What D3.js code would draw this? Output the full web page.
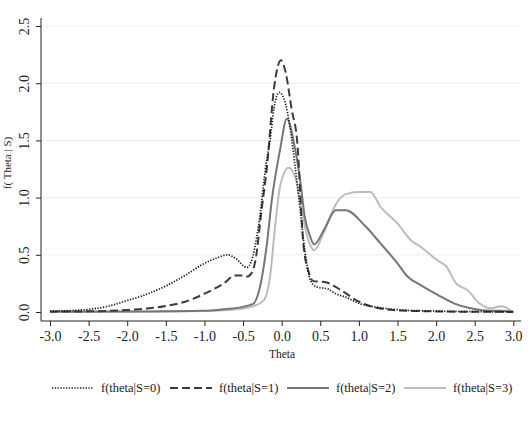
<!DOCTYPE html>
<html>
<head>
<meta charset="utf-8">
<script src="https://cdn.jsdelivr.net/npm/d3@7.9.0/dist/d3.min.js"></script>
<style>
  body { margin: 0; background: #fff; }
  svg text { font-family: "Liberation Serif", "DejaVu Serif", serif; fill: #222; }
</style>
</head>
<body>
<svg id="chart" width="528" height="422"></svg>
<script>
const xTicks = [-3.0, -2.5, -2.0, -1.5, -1.0, -0.5, 0.0, 0.5, 1.0, 1.5, 2.0, 2.5, 3.0];
const yTicks = [0.0, 0.5, 1.0, 1.5, 2.0, 2.5];
const seriesNames = ["f(theta|S=0)", "f(theta|S=1)", "f(theta|S=2)", "f(theta|S=3)"];

const s0 = [[-3.0,0.008],[-2.75,0.012],[-2.5,0.023],[-2.25,0.05],[-2.0,0.1],[-1.75,0.155],[-1.5,0.227],
  [-1.25,0.32],[-1.0,0.425],[-0.85,0.47],[-0.7,0.5],[-0.6,0.47],[-0.45,0.39],[-0.4,0.43],[-0.3,0.75],
  [-0.2,1.3],[-0.15,1.5],[-0.1,1.78],[-0.03,1.92],[0.05,1.82],[0.1,1.65],[0.175,1.27],[0.24,0.89],
  [0.3,0.54],[0.37,0.28],[0.45,0.22],[0.6,0.2],[0.7,0.16],[0.83,0.13],[1.0,0.076],[1.25,0.04],
  [1.5,0.02],[2.0,0.008],[2.5,0.003],[3.0,0.001]];
const s1 = [[-3.0,0.003],[-2.5,0.006],[-2.0,0.017],[-1.75,0.03],[-1.5,0.052],[-1.25,0.09],[-1.0,0.16],
  [-0.75,0.25],[-0.6,0.32],[-0.5,0.32],[-0.45,0.31],[-0.39,0.34],[-0.34,0.45],[-0.26,0.89],[-0.19,1.27],
  [-0.1,1.95],[-0.01,2.2],[0.05,2.1],[0.13,1.77],[0.2,1.5],[0.28,0.6],[0.35,0.35],[0.41,0.27],
  [0.57,0.26],[0.77,0.19],[1.0,0.09],[1.28,0.03],[1.5,0.015],[2.0,0.005],[2.5,0.002],[3.0,0.001]];
const s2 = [[-3.0,0.003],[-2.0,0.004],[-1.5,0.006],[-1.0,0.01],[-0.75,0.025],[-0.5,0.045],[-0.37,0.07],
  [-0.28,0.22],[-0.19,0.6],[-0.127,0.98],[-0.02,1.42],[0.067,1.69],[0.175,1.42],[0.24,1.15],[0.3,0.83],
  [0.37,0.66],[0.42,0.59],[0.55,0.72],[0.7,0.89],[0.83,0.89],[1.07,0.76],[1.28,0.6],[1.5,0.425],
  [1.63,0.31],[1.8,0.235],[2.02,0.15],[2.23,0.076],[2.45,0.032],[2.6,0.015],[2.8,0.01],[3.0,0.005]];
const s3 = [[-3.0,0.002],[-2.0,0.003],[-1.5,0.005],[-1.0,0.008],[-0.75,0.015],[-0.5,0.03],[-0.37,0.05],
  [-0.235,0.1],[-0.15,0.31],[-0.084,0.75],[-0.02,1.1],[0.09,1.26],[0.175,1.18],[0.24,0.98],[0.3,0.75],
  [0.38,0.57],[0.42,0.54],[0.55,0.7],[0.7,0.94],[0.83,1.03],[1.0,1.05],[1.15,1.05],[1.28,0.92],
  [1.5,0.775],[1.67,0.63],[1.8,0.57],[2.02,0.45],[2.13,0.4],[2.26,0.25],[2.41,0.19],[2.56,0.076],
  [2.71,0.032],[2.84,0.05],[2.93,0.03],[2.98,0.005]];
const seriesData = [s0, s1, s2, s3];

const styles = [
  { stroke: "#1a1a1a", width: 1.7, dash: "1.3,1.5" },
  { stroke: "#3c3c3c", width: 2, dash: "8,4" },
  { stroke: "#767676", width: 2, dash: null },
  { stroke: "#bcbcbc", width: 2, dash: null }
];

const svg = d3.select("#chart");
const x = d3.scaleLinear().domain([-3, 3]).range([50, 513.3]);
const y = d3.scaleLinear().domain([0, 2.5]).range([312, 26]);

// grid
svg.append("g")
  .selectAll("line")
  .data(yTicks.slice(1))
  .join("line")
  .attr("x1", 42).attr("x2", 520)
  .attr("y1", d => y(d)).attr("y2", d => y(d))
  .attr("stroke", "#eeeeee").attr("stroke-width", 1);

// y axis
const yAxis = svg.append("g")
  .attr("transform", "translate(41,0)")
  .call(d3.axisLeft(y).tickValues(yTicks).tickFormat(d3.format(".1f")).tickSize(5).tickPadding(6));
yAxis.select(".domain").attr("d", "M0,18V321").attr("stroke", "#222");
yAxis.selectAll(".tick line").attr("stroke", "#222");
yAxis.selectAll(".tick text")
  .attr("font-size", 14)
  .attr("text-anchor", "middle")
  .attr("transform", "rotate(-90)")
  .attr("x", 0).attr("y", -12)
  .attr("dy", 0);

// x axis
const xAxis = svg.append("g")
  .attr("transform", "translate(0,321)")
  .call(d3.axisBottom(x).tickValues(xTicks).tickFormat(d3.format(".1f")).tickSize(5).tickPadding(5));
xAxis.select(".domain").attr("d", "M41,0H521").attr("stroke", "#222");
xAxis.selectAll(".tick line").attr("stroke", "#222");
xAxis.selectAll(".tick text").attr("font-size", 14).text(d => d3.format(".1f")(d).replace("−", "-"));

// axis titles
svg.append("text")
  .attr("x", 282).attr("y", 358)
  .attr("text-anchor", "middle")
  .attr("font-size", 11.5)
  .text("Theta");
svg.append("text")
  .attr("transform", "translate(11,163) rotate(-90)")
  .attr("text-anchor", "middle")
  .attr("font-size", 11)
  .text("f( Theta | S)");

// lines
const line = d3.line().x(d => x(d[0])).y(d => y(d[1])).curve(d3.curveMonotoneX);
[3, 2, 1, 0].forEach(i => {
  svg.append("path")
    .datum(seriesData[i])
    .attr("d", line)
    .attr("fill", "none")
    .attr("stroke", styles[i].stroke)
    .attr("stroke-width", styles[i].width)
    .attr("stroke-dasharray", styles[i].dash)
    .attr("stroke-linejoin", "round");
});

// legend
const legendX = [52, 170, 287, 404];
const legend = svg.append("g");
seriesNames.forEach((name, i) => {
  legend.append("line")
    .attr("x1", legendX[i]).attr("x2", legendX[i] + 42)
    .attr("y1", 388).attr("y2", 388)
    .attr("stroke", styles[i].stroke)
    .attr("stroke-width", styles[i].width)
    .attr("stroke-dasharray", styles[i].dash);
  legend.append("text")
    .attr("x", legendX[i] + 49).attr("y", 392)
    .attr("font-size", 12.5)
    .text(name);
});
</script>
</body>
</html>
